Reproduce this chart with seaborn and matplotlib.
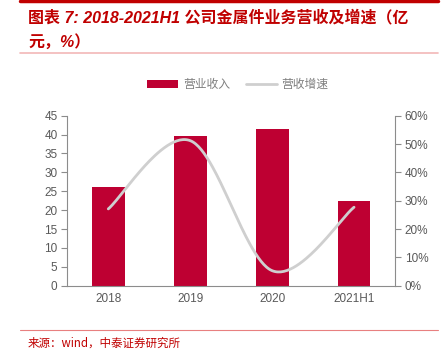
import numpy as np
import pandas as pd
import matplotlib
matplotlib.use("Agg")
import matplotlib.pyplot as plt
import seaborn as sns
from matplotlib.lines import Line2D
from matplotlib.patches import Patch

categories = ["2018", "2019", "2020", "2021H1"]
revenue = [26.1, 39.6, 41.5, 22.4]          # 营业收入 (亿元)
growth = [0.271, 0.512, 0.053, 0.277]        # 营收增速
left_ticks = [0, 5, 10, 15, 20, 25, 30, 35, 40, 45]
right_ticks = [0, 0.1, 0.2, 0.3, 0.4, 0.5, 0.6]

sns.set_theme(style="white")
plt.rcParams['font.family'] = ['Liberation Sans', 'Noto Sans CJK SC', 'DejaVu Sans']

RED = '#BE0032'
GRAY = '#595959'
AX = '#8C8C8C'

fig = plt.figure(figsize=(4.42, 3.59), dpi=100)
ax = fig.add_axes([0.1523, 0.2042, 0.7414, 0.4735])

df = pd.DataFrame({"cat": categories, "rev": revenue})
sns.barplot(data=df, x="cat", y="rev", color=RED, width=0.4, ax=ax,
            saturation=1, edgecolor='none')
ax.set_xlim(-0.5, len(categories) - 0.5)
ax.set_ylim(0, 45)
ax.set_yticks(left_ticks)
ax.set_xlabel("")
ax.set_ylabel("")
ax.set_xticks(np.arange(-0.5, len(categories), 1.0), minor=False)
ax.set_xticklabels([""] * (len(categories) + 1))
ax.set_xticks(np.arange(len(categories)), minor=True)
ax.set_xticklabels(categories, minor=True)
ax.tick_params(axis='x', which='major', direction='out', length=4, color=AX, width=0.8)
ax.tick_params(axis='x', which='minor', length=0, labelsize=8.5, labelcolor=GRAY, pad=5)
ax.tick_params(axis='y', direction='out', length=4, color=AX, width=0.8,
               labelsize=8.5, labelcolor=GRAY, left=True, pad=3)
for s in ['top', 'right']:
    ax.spines[s].set_visible(False)
for s in ['left', 'bottom']:
    ax.spines[s].set_color(AX)
    ax.spines[s].set_linewidth(0.8)

# secondary axis for growth rate
ax2 = ax.twinx()
ax2.set_ylim(0, 0.6)
ax2.set_yticks(right_ticks)
ax2.set_yticklabels([f"{int(round(t*100))}%" for t in right_ticks])
ax2.tick_params(axis='y', direction='out', length=4, color=AX, width=0.8,
                labelsize=8.5, labelcolor=GRAY, right=True, pad=3)
for s in ['top', 'left', 'bottom']:
    ax2.spines[s].set_visible(False)
ax2.spines['right'].set_color(AX)
ax2.spines['right'].set_linewidth(0.8)

# smoothed line (spreadsheet-style "smoothed line" through the data points)
xs = np.arange(len(categories), dtype=float)
ys = np.array(growth, dtype=float)
px = np.concatenate([[xs[0]], xs, [xs[-1]]])
py = np.concatenate([[ys[0]], ys, [ys[-1]]])
cx, cy = [], []
t = np.linspace(0, 1, 60)
for i in range(1, len(px) - 2):
    p0, p1, p2, p3 = (np.array([px[j], py[j]]) for j in (i - 1, i, i + 1, i + 2))
    b1 = p1 + (p2 - p0) / 6
    b2 = p2 - (p3 - p1) / 6
    seg = ((1 - t) ** 3)[:, None] * p1 + (3 * (1 - t) ** 2 * t)[:, None] * b1 \
        + (3 * (1 - t) * t ** 2)[:, None] * b2 + (t ** 3)[:, None] * p2
    cx.extend(seg[:, 0]); cy.extend(seg[:, 1])
ax2.plot(cx, cy, color='#CFCFCF', lw=2.0, solid_capstyle='round')

# legend
handles = [Patch(facecolor=RED, edgecolor='none'),
           Line2D([0], [0], color='#CFCFCF', lw=2)]
fig.legend(handles, ["营业收入", "营收增速"], loc='center', bbox_to_anchor=(0.5385, 0.765),
           ncol=2, frameon=False, labelcolor='#7F7F7F',
           handlelength=2.6, handleheight=0.65, columnspacing=1.4, handletextpad=0.4,
           prop={'family': ['Noto Sans CJK SC'], 'size': 8.5})

# title and decorations
fig.add_artist(Line2D([20/442, 438/442], [1 - 1/359, 1 - 1/359], color='#C00000', lw=2.5))
fig.text(28/442, 1 - 17/359, "图表 7: 2018-2021H1 公司金属件业务营收及增速（亿",
         color='#C00000', fontsize=11.5, fontweight='bold', style='italic',
         va='center', ha='left', family=['Liberation Sans', 'Noto Sans CJK SC'])
fig.text(28/442, 1 - 42/359, "元，%）",
         color='#C00000', fontsize=11.5, fontweight='bold', style='italic',
         va='center', ha='left', family=['Liberation Sans', 'Noto Sans CJK SC'])
fig.add_artist(Line2D([20/442, 438/442], [1 - 53/359, 1 - 53/359], color='#F2B8B8', lw=1.2))
fig.add_artist(Line2D([20/442, 438/442], [1 - 330/359, 1 - 330/359], color='#E88080', lw=0.8))
fig.text(28/442, 1 - 343/359, "来源：wind，中泰证券研究所", color='#C00000', fontsize=8.3,
         va='center', ha='left', family=['Noto Sans CJK SC'])

fig.savefig("out.png", dpi=100)
